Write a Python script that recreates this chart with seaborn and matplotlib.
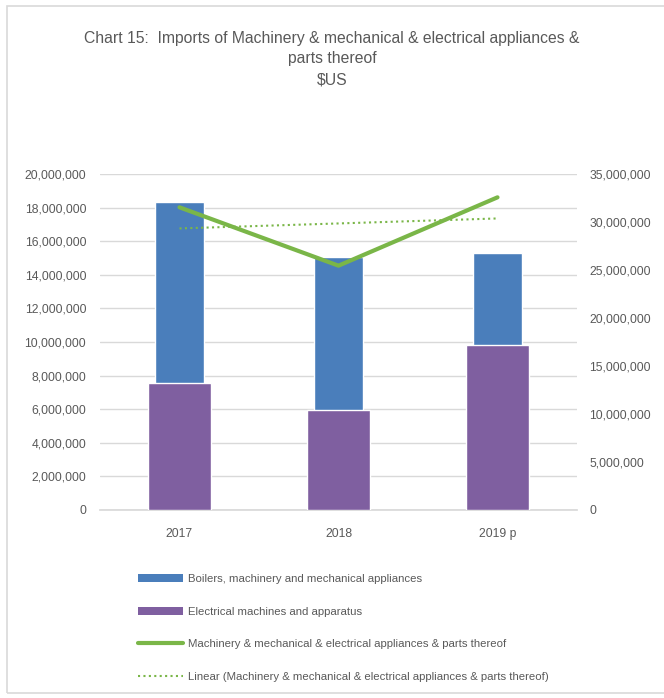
import numpy as np
import pandas as pd
import matplotlib
matplotlib.use('Agg')
import matplotlib.pyplot as plt
import seaborn as sns
from matplotlib.patches import Rectangle, Patch
from matplotlib.lines import Line2D
from matplotlib.ticker import FuncFormatter

# Data
years = ['2017', '2018', '2019 p']
boilers = [18350000, 15040000, 15280000]
electrical = [7540000, 5950000, 9800000]
total = [31530000, 25450000, 32570000]

blue = '#4a7ebb'
purple = '#7f5fa0'
green = '#7ab648'
text_col = '#595959'

sns.set_theme(style='white')
plt.rcParams['font.family'] = ['Liberation Sans Narrow', 'Liberation Sans', 'DejaVu Sans']

fig = plt.figure(figsize=(6.64, 6.98), dpi=100)
# light frame around the chart
fig.patches.append(Rectangle((7 / 664, 1 - 693 / 698), 1.0, (693 - 6) / 698,
                             transform=fig.transFigure, fill=False,
                             edgecolor='#d9d9d9', lw=1.2))

ax = fig.add_axes([100 / 664, 1 - 510 / 698, 477 / 664, 336 / 698])

df = pd.DataFrame({'year': years, 'boilers': boilers, 'electrical': electrical})
sns.barplot(data=df, x='year', y='boilers', color=blue, width=0.31,
            saturation=1, ax=ax, zorder=2)
sns.barplot(data=df, x='year', y='electrical', color=purple, width=0.40,
            saturation=1, ax=ax, zorder=3)

ax.set_ylim(0, 20000000)
ax.set_yticks(np.arange(0, 20000001, 2000000))
ax.set_xlim(-0.5, 2.5)
ax.yaxis.set_major_formatter(FuncFormatter(lambda v, p: f'{v:,.0f}'))
ax.grid(axis='y', color='#d9d9d9', lw=1, zorder=0)
ax.set_axisbelow(True)
ax.set_xlabel('')
ax.set_ylabel('')
for s in ['top', 'right', 'left']:
    ax.spines[s].set_visible(False)
ax.spines['bottom'].set_color('#d9d9d9')
ax.tick_params(axis='y', colors=text_col, labelsize=8.7, length=0, pad=10)
ax.tick_params(axis='x', colors=text_col, labelsize=8.7, length=0, pad=13)

ax2 = ax.twinx()
x = np.arange(len(years))
sns.lineplot(x=x, y=total, color=green, lw=3, ax=ax2, zorder=4)
coef = np.polyfit(x, total, 1)
sns.lineplot(x=x, y=np.polyval(coef, x), color=green, lw=1.5,
             linestyle=(0, (1, 1.6)), ax=ax2, zorder=4)
ax2.set_ylim(0, 35000000)
ax2.set_yticks(np.arange(0, 35000001, 5000000))
ax2.yaxis.set_major_formatter(FuncFormatter(lambda v, p: f'{v:,.0f}'))
ax2.grid(False)
for s in ax2.spines.values():
    s.set_visible(False)
ax2.tick_params(axis='y', colors=text_col, labelsize=8.7, length=0, pad=9)
ax2.set_ylabel('')

fig.text(0.5, 1 - 39 / 698, 'Chart 15:  Imports of Machinery & mechanical & electrical appliances &',
         ha='center', va='center', fontsize=11.3, color=text_col)
fig.text(0.5, 1 - 59 / 698, 'parts thereof', ha='center', va='center',
         fontsize=11.3, color=text_col)
fig.text(0.5, 1 - 80 / 698, '$US', ha='center', va='center',
         fontsize=11.3, color=text_col)

handles = [
    Patch(facecolor=blue, edgecolor='none'),
    Patch(facecolor=purple, edgecolor='none'),
    Line2D([0], [0], color=green, lw=3),
    Line2D([0], [0], color=green, lw=1.5, linestyle=(0, (1, 1.6))),
]
labels = [
    'Boilers, machinery and mechanical appliances',
    'Electrical machines and apparatus',
    'Machinery & mechanical & electrical appliances & parts thereof',
    'Linear (Machinery & mechanical & electrical appliances & parts thereof)',
]
fig.legend(handles, labels, loc='upper left', bbox_to_anchor=(128 / 664, 1 - 564 / 698),
           frameon=False, fontsize=8.2, labelcolor=text_col, handlelength=3.9,
           handleheight=0.7, labelspacing=1.97, handletextpad=0.5)

fig.savefig('out.png', dpi=100, facecolor='white')
